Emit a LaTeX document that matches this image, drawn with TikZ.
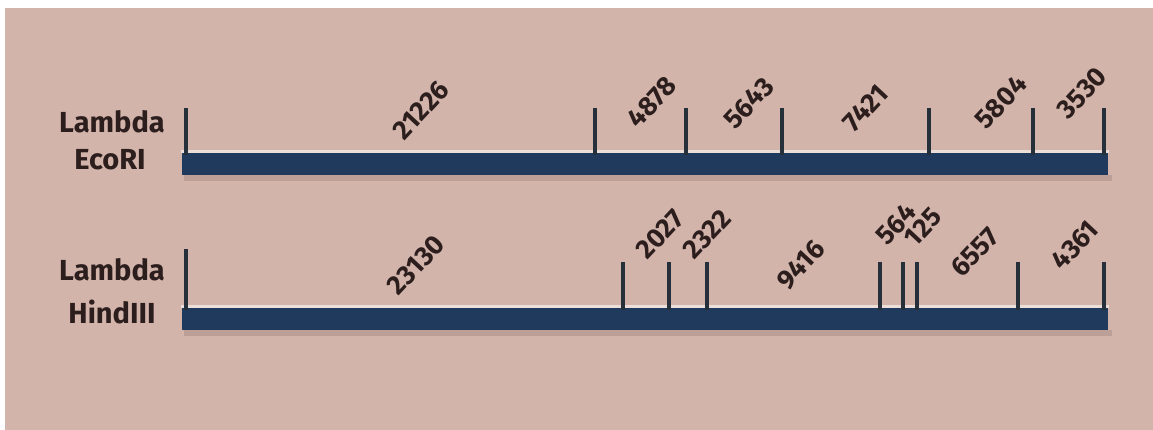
\documentclass[tikz,border=0pt]{standalone}
\usepackage{fontspec}
\setmainfont{Fira Sans}
\usetikzlibrary{calc}
\definecolor{bgpink}{RGB}{210,180,170}
\definecolor{barblue}{RGB}{31,58,92}
\definecolor{tickdark}{RGB}{38,48,58}
\definecolor{inkbrown}{RGB}{45,30,30}
\definecolor{shadowpink}{RGB}{188,160,152}
\definecolor{glow}{RGB}{236,222,216}
\tikzset{
  sizelabel/.style={text=inkbrown, font=\fontsize{27}{27}\selectfont\bfseries, rotate=47, inner sep=0pt},
  enzlabel/.style={text=inkbrown, font=\fontsize{29}{29}\selectfont\bfseries, inner sep=0pt},
  cutmark/.style={draw=tickdark, line width=4.5pt},
}
% one restriction map: bar from x=#1 to x=#2 with its top edge at y=#3
\newcommand{\mapbar}[3]{%
  \fill[shadowpink] (#1+2,#3+22) rectangle (#2+4,#3+28);
  \fill[glow] (#1-1,#3-3) rectangle (#2+1,#3);
  \fill[barblue] (#1,#3) rectangle (#2,#3+22);
}
\begin{document}
\begin{tikzpicture}[x=1pt,y=-1pt]
\useasboundingbox (0,0) rectangle (1153,430);
\fill[white] (0,0) rectangle (1153,430);
\fill[bgpink] (5,8) rectangle (1153,430);

% ---- Lambda EcoRI ----
\node[enzlabel] (ecoA) at (112,122) {Lambda};
\node[enzlabel] (ecoB) at (110,160) {EcoRI};
\mapbar{182}{1108}{153}
\foreach \x in {186,595,686,782,929,1033,1104}
  \draw[cutmark] (\x,108) -- (\x,155);
\node[sizelabel] (e1) at (421,110) {21226};
\node[sizelabel] (e2) at (652,102) {4878};
\node[sizelabel] (e3) at (749,103) {5643};
\node[sizelabel] (e4) at (866,108) {7421};
\node[sizelabel] (e5) at (1001,102) {5804};
\node[sizelabel] (e6) at (1082,93) {3530};

% ---- Lambda HindIII ----
\node[enzlabel] (hinA) at (112,270) {Lambda};
\node[enzlabel] (hinB) at (112,312) {HindIII};
\mapbar{182}{1108}{308}
\draw[cutmark] (186,249) -- (186,310);
\foreach \x in {623,669,707,880,903,917,1018,1104}
  \draw[cutmark] (\x,262) -- (\x,310);
\node[sizelabel] (h1) at (416,265) {23130};
\node[sizelabel] (h2) at (660,234) {2027};
\node[sizelabel] (h3) at (707,234) {2322};
\node[sizelabel] (h4) at (801,265) {9416};
\node[sizelabel] (h5) at (896,224) {564};
\node[sizelabel] (h6) at (923,227) {125};
\node[sizelabel] (h7) at (975,252) {6557};
\node[sizelabel] (h8) at (1075,245) {4361};
\end{tikzpicture}
\end{document}
